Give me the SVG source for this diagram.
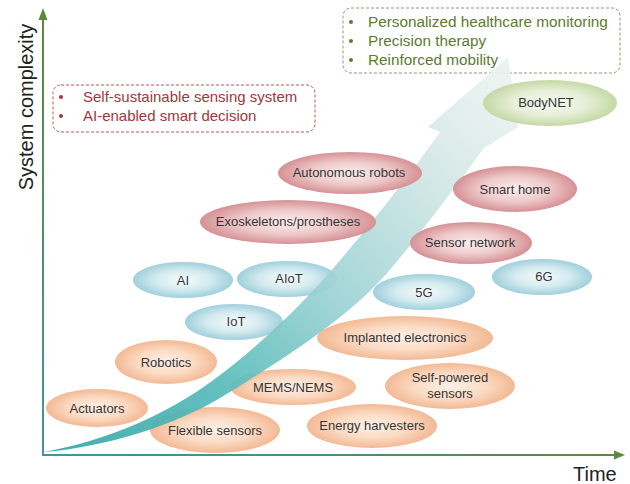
<svg xmlns="http://www.w3.org/2000/svg" width="630" height="484" viewBox="0 0 630 484">
  <defs>
    <radialGradient id="gOrange" cx="50%" cy="50%" r="50%">
      <stop offset="0" stop-color="#fdf0e7"/>
      <stop offset="0.55" stop-color="#fbdbc4"/>
      <stop offset="1" stop-color="#f3b994"/>
    </radialGradient>
    <radialGradient id="gBlue" cx="50%" cy="50%" r="50%">
      <stop offset="0" stop-color="#f6fbfc"/>
      <stop offset="0.55" stop-color="#d4ebf0"/>
      <stop offset="1" stop-color="#a0d0dc"/>
    </radialGradient>
    <radialGradient id="gPink" cx="50%" cy="50%" r="50%">
      <stop offset="0" stop-color="#fbeeee"/>
      <stop offset="0.55" stop-color="#eecaca"/>
      <stop offset="1" stop-color="#d69195"/>
    </radialGradient>
    <radialGradient id="gGreen" cx="50%" cy="50%" r="50%">
      <stop offset="0" stop-color="#f7f9f1"/>
      <stop offset="0.55" stop-color="#e6efd8"/>
      <stop offset="1" stop-color="#c4d9a4"/>
    </radialGradient>
    <linearGradient id="gTrend" gradientUnits="userSpaceOnUse" x1="60" y1="450" x2="480" y2="80">
      <stop offset="0" stop-color="#36a7a8"/>
      <stop offset="0.3" stop-color="#5bbcbc"/>
      <stop offset="0.55" stop-color="#9dd3d4"/>
      <stop offset="0.8" stop-color="#cde5e4"/>
      <stop offset="1" stop-color="#e9f1ef"/>
    </linearGradient>
    <linearGradient id="gAxisV" gradientUnits="userSpaceOnUse" x1="0" y1="455" x2="0" y2="10">
      <stop offset="0" stop-color="#3d979c"/>
      <stop offset="1" stop-color="#5b8a3a"/>
    </linearGradient>
    <linearGradient id="gAxisH" gradientUnits="userSpaceOnUse" x1="43" y1="0" x2="625" y2="0">
      <stop offset="0" stop-color="#3d979c"/>
      <stop offset="1" stop-color="#5b8a3a"/>
    </linearGradient>
  </defs>
  <style>
    .lbl { font-family: "Liberation Sans", Arial, sans-serif; font-size: 13px; fill: #353535; text-anchor: middle; }
    .axis-title { font-family: "Liberation Sans", Arial, sans-serif; font-size: 20px; fill: #222222; }
    .note-red { font-family: "Liberation Sans", Arial, sans-serif; font-size: 15px; fill: #a3363a; }
    .note-green { font-family: "Liberation Sans", Arial, sans-serif; font-size: 15.3px; fill: #5e7a2f; }
    .orange { fill: url(#gOrange); }
    .blue { fill: url(#gBlue); }
    .pink { fill: url(#gPink); }
    .green { fill: url(#gGreen); }
  </style>

  <rect width="630" height="484" fill="#ffffff"/>

  <!-- axis titles -->
  <text class="axis-title" transform="translate(33,107) rotate(-90)" text-anchor="middle">System complexity</text>
  <text class="axis-title" x="573" y="481">Time</text>

  <!-- callout boxes -->
  <g id="goals-red">
    <rect x="53" y="85" width="262" height="47" rx="8" fill="none" stroke="#b8575b" stroke-width="1" stroke-dasharray="3 2"/>
    <circle cx="61" cy="97" r="2" fill="#a3363a"/>
    <circle cx="61" cy="116" r="2" fill="#a3363a"/>
    <text class="note-red" x="83" y="102">Self-sustainable sensing system</text>
    <text class="note-red" x="83" y="121">AI-enabled smart decision</text>
  </g>
  <g id="goals-green">
    <rect x="343" y="8" width="277" height="65" rx="8" fill="none" stroke="#8d9a78" stroke-width="1" stroke-dasharray="3 2"/>
    <circle cx="351" cy="22" r="2" fill="#5e7a2f"/>
    <circle cx="351" cy="41" r="2" fill="#5e7a2f"/>
    <circle cx="351" cy="60" r="2" fill="#5e7a2f"/>
    <text class="note-green" x="368" y="27">Personalized healthcare monitoring</text>
    <text class="note-green" x="368" y="46">Precision therapy</text>
    <text class="note-green" x="368" y="65">Reinforced mobility</text>
  </g>

  <!-- device and network nodes (under the trend arrow) -->
  <g id="actuators"><ellipse class="orange" cx="97" cy="408" rx="51" ry="19"/><text class="lbl" x="97" y="413">Actuators</text></g>
  <g id="robotics"><ellipse class="orange" cx="166" cy="362" rx="51" ry="22"/><text class="lbl" x="166" y="367">Robotics</text></g>
  <g id="flexible-sensors"><ellipse class="orange" cx="215" cy="430" rx="65" ry="23"/><text class="lbl" x="215" y="435">Flexible sensors</text></g>
  <g id="mems-nems"><ellipse class="orange" cx="293" cy="387" rx="63" ry="18"/><text class="lbl" x="293" y="392">MEMS/NEMS</text></g>
  <g id="implanted-electronics"><ellipse class="orange" cx="405" cy="338" rx="88" ry="22"/><text class="lbl" x="405" y="342">Implanted electronics</text></g>
  <g id="self-powered-sensors"><ellipse class="orange" cx="450" cy="386" rx="65" ry="23"/><text class="lbl" x="450" y="382">Self-powered</text><text class="lbl" x="450" y="398">sensors</text></g>
  <g id="energy-harvesters"><ellipse class="orange" cx="372" cy="426" rx="65" ry="22"/><text class="lbl" x="372" y="430">Energy harvesters</text></g>

  <g id="ai"><ellipse class="blue" cx="183" cy="280" rx="50" ry="18"/><text class="lbl" x="183" y="285">AI</text></g>
  <g id="aiot"><ellipse class="blue" cx="287" cy="279" rx="50" ry="18"/><text class="lbl" x="289" y="283">AIoT</text></g>
  <g id="iot"><ellipse class="blue" cx="234" cy="322" rx="49" ry="18"/><text class="lbl" x="236" y="326">IoT</text></g>
  <g id="g5"><ellipse class="blue" cx="424" cy="292" rx="51" ry="18"/><text class="lbl" x="424" y="297">5G</text></g>
  <g id="g6"><ellipse class="blue" cx="542" cy="277" rx="50" ry="18"/><text class="lbl" x="544" y="281">6G</text></g>

  <!-- connectors: axes and the rising trend arrow -->
  <g id="connectors">
    <path id="trend" d="M44,452 C110,440 170,412 212,381 C254,350 295,312 330,272 C365,232 412,172 440,132 L428,127 L508,57 L518,127 L484,148 C462,178 420,235 388,272 C350,316 290,355 225,395 C175,426 105,447 44,452 Z" fill="url(#gTrend)" opacity="0.93"/>
    <line x1="43" y1="455" x2="43" y2="18" stroke="url(#gAxisV)" stroke-width="2"/>
    <line x1="42" y1="455" x2="616" y2="455" stroke="url(#gAxisH)" stroke-width="2"/>
    <polygon points="43,8 47.5,20 38.5,20" fill="#5b8a3a"/>
    <polygon points="625,455 614,450.5 614,459.5" fill="#5b8a3a"/>
  </g>

  <!-- application nodes (over the trend arrow) -->
  <g id="autonomous-robots"><ellipse class="pink" cx="350" cy="173" rx="72" ry="21"/><text class="lbl" x="349" y="177">Autonomous robots</text></g>
  <g id="exoskeletons"><ellipse class="pink" cx="288" cy="222" rx="88" ry="22"/><text class="lbl" x="288" y="226">Exoskeletons/prostheses</text></g>
  <g id="smart-home"><ellipse class="pink" cx="515" cy="189" rx="62" ry="23"/><text class="lbl" x="515" y="194">Smart home</text></g>
  <g id="sensor-network"><ellipse class="pink" cx="471" cy="243" rx="61" ry="21"/><text class="lbl" x="470" y="247">Sensor network</text></g>

  <g id="bodynet"><ellipse class="green" cx="550" cy="103" rx="67" ry="23"/><text class="lbl" x="546" y="107">BodyNET</text></g>
</svg>
